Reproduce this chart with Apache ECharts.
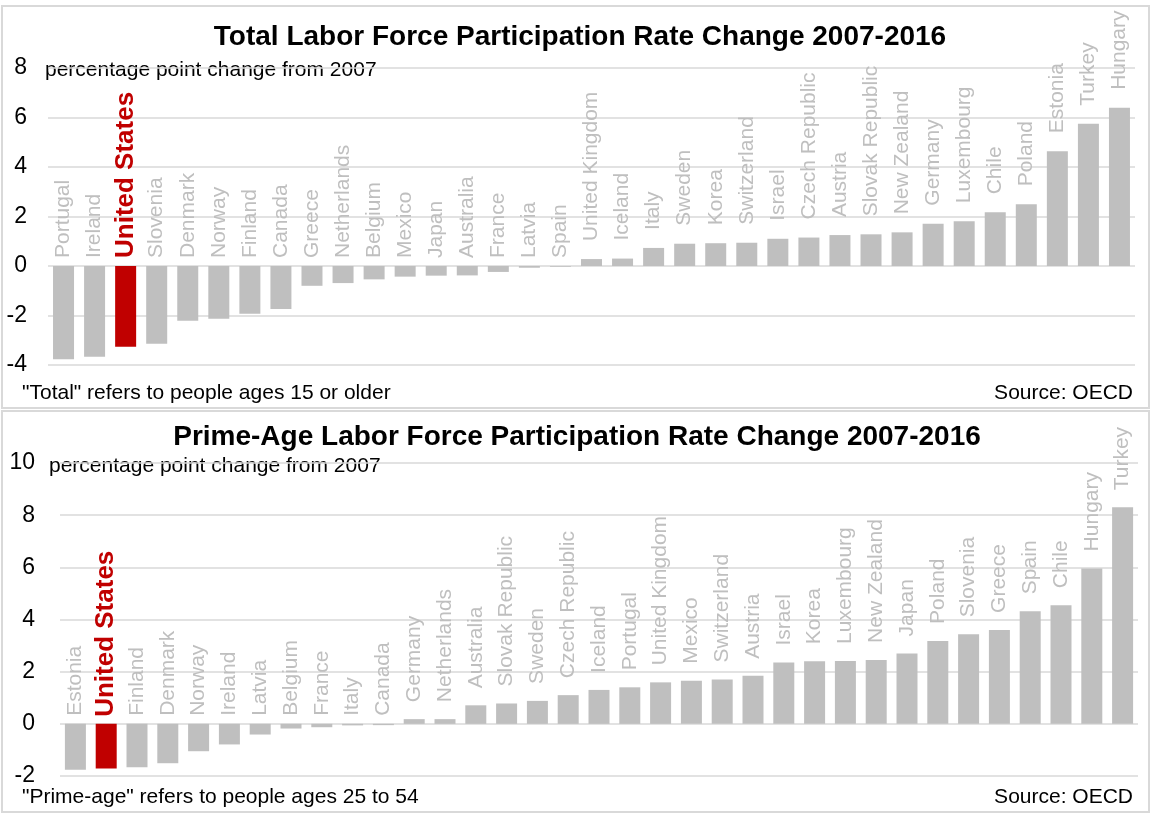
<!DOCTYPE html>
<html>
<head>
<meta charset="utf-8">
<script src="https://cdn.jsdelivr.net/npm/echarts@6/dist/echarts.min.js"></script>
<style>
html,body{margin:0;padding:0;background:#fff;}
#chart{width:1151px;height:813px;}
</style>
</head>
<body>
<div id="chart"></div>
<script>
// ---------- DATA ----------
const totalCategories = ["Portugal","Ireland","United States","Slovenia","Denmark","Norway","Finland","Canada","Greece","Netherlands","Belgium","Mexico","Japan","Australia","France","Latvia","Spain","United Kingdom","Iceland","Italy","Sweden","Korea","Switzerland","Israel","Czech Republic","Austria","Slovak Republic","New Zealand","Germany","Luxembourg","Chile","Poland","Estonia","Turkey","Hungary"];
const totalValues = [-3.77,-3.67,-3.26,-3.14,-2.21,-2.13,-1.93,-1.74,-0.80,-0.69,-0.54,-0.43,-0.39,-0.38,-0.24,-0.07,-0.03,0.28,0.30,0.73,0.90,0.92,0.94,1.10,1.15,1.25,1.28,1.36,1.71,1.81,2.17,2.49,4.64,5.75,6.39];
const totalTicks = [-4,-2,0,2,4,6,8];

const primeCategories = ["Estonia","United States","Finland","Denmark","Norway","Ireland","Latvia","Belgium","France","Italy","Canada","Germany","Netherlands","Australia","Slovak Republic","Sweden","Czech Republic","Iceland","Portugal","United Kingdom","Mexico","Switzerland","Austria","Israel","Korea","Luxembourg","New Zealand","Japan","Poland","Slovenia","Greece","Spain","Chile","Hungary","Turkey"];
const primeValues = [-1.76,-1.71,-1.66,-1.51,-1.05,-0.79,-0.41,-0.18,-0.13,-0.06,-0.05,0.18,0.18,0.71,0.78,0.88,1.10,1.30,1.40,1.59,1.65,1.70,1.84,2.35,2.40,2.41,2.45,2.70,3.18,3.43,3.60,4.32,4.55,5.96,8.30];
const primeTicks = [-2,0,2,4,6,8,10];

const highlight = "United States";
const titles = ["Total Labor Force Participation Rate Change 2007-2016","Prime-Age Labor Force Participation Rate Change 2007-2016"];
const unitNote = "percentage point change from 2007";
const footnotes = ['"Total" refers to people ages 15 or older','"Prime-age" refers to people ages 25 to 54'];
const sourceNote = "Source: OECD";

// ---------- STYLE ----------
const FONT = "'Liberation Sans', Arial, sans-serif";
const GRAY = "#bfbfbf";
const RED = "#c00000";
const GRID = "#d9d9d9";

function yAxis(ticks, gridIndex, margin){
  return {
    type:'value', gridIndex,
    min: ticks[0], max: ticks[ticks.length-1], interval: ticks[1]-ticks[0],
    axisLine:{show:false}, axisTick:{show:false},
    axisLabel:{color:'#000', fontSize:23, fontFamily:FONT, margin},
    splitLine:{lineStyle:{color:GRID, width:1.5}}
  };
}
function xAxis(cats, gridIndex){
  return {
    type:'category', gridIndex, data:cats,
    axisLine:{show:false}, axisTick:{show:false}, axisLabel:{show:false}, splitLine:{show:false}
  };
}
function seriesFor(cats, vals, idx, negGap, posGap, usGap){
  return [
    {
      type:'bar', xAxisIndex:idx, yAxisIndex:idx, barWidth:21, barGap:'-100%',
      data: vals.map((v,i)=>({value:v, itemStyle:{color: cats[i]===highlight ? RED : GRAY}})),
      silent:true, animation:false
    },
    {
      type:'bar', xAxisIndex:idx, yAxisIndex:idx, barWidth:21, barGap:'-100%',
      data: vals.map((v,i)=>{
        const us = cats[i]===highlight;
        return {
          value: Math.max(v,0),
          itemStyle:{color:'rgba(0,0,0,0)'},
          label:{
            show:true, position:'top', rotate:90, align:'left', verticalAlign:'middle',
            distance: us ? usGap : (v<0 ? negGap : posGap),
            formatter: cats[i],
            color: us ? RED : GRAY,
            fontWeight: us ? 'bold' : 'normal',
            fontSize: us ? 26 : 21,
            fontFamily: FONT
          }
        };
      }),
      silent:true, animation:false
    }
  ];
}

const chart = echarts.init(document.getElementById('chart'), null, {renderer:'canvas'});
chart.setOption({
  animation:false,
  backgroundColor:'#fff',
  grid:[
    {left:48, right:16, top:68, height:297},
    {left:60, right:13, top:463, height:313}
  ],
  xAxis:[xAxis(totalCategories,0), xAxis(primeCategories,1)],
  yAxis:[yAxis(totalTicks,0,21), yAxis(primeTicks,1,25)],
  series:[
    ...seriesFor(totalCategories,totalValues,0,8,18,8),
    ...seriesFor(primeCategories,primeValues,1,8,17,7)
  ],
  graphic:[
    {type:'rect', shape:{x:2,y:6,width:1147,height:402}, style:{fill:'none', stroke:GRID, lineWidth:2}, z:-1},
    {type:'rect', shape:{x:2,y:411,width:1147,height:401}, style:{fill:'none', stroke:GRID, lineWidth:2}, z:-1},
    {type:'text', x:580, y:37, style:{text:titles[0], fill:'#000', font:"bold 28px "+FONT, textAlign:'center', textVerticalAlign:'middle'}},
    {type:'text', x:577, y:437, style:{text:titles[1], fill:'#000', font:"bold 28px "+FONT, textAlign:'center', textVerticalAlign:'middle'}},
    {type:'text', x:45, y:70, style:{text:unitNote, fill:'#000', font:"21px "+FONT, textAlign:'left', textVerticalAlign:'middle'}},
    {type:'text', x:49, y:466, style:{text:unitNote, fill:'#000', font:"21px "+FONT, textAlign:'left', textVerticalAlign:'middle'}},
    {type:'text', x:22, y:393, style:{text:footnotes[0], fill:'#000', font:"21px "+FONT, textAlign:'left', textVerticalAlign:'middle'}},
    {type:'text', x:22, y:797, style:{text:footnotes[1], fill:'#000', font:"21px "+FONT, textAlign:'left', textVerticalAlign:'middle'}},
    {type:'text', x:1133, y:393, style:{text:sourceNote, fill:'#000', font:"21px "+FONT, textAlign:'right', textVerticalAlign:'middle'}},
    {type:'text', x:1133, y:797, style:{text:sourceNote, fill:'#000', font:"21px "+FONT, textAlign:'right', textVerticalAlign:'middle'}}
  ]
});
</script>
</body>
</html>
